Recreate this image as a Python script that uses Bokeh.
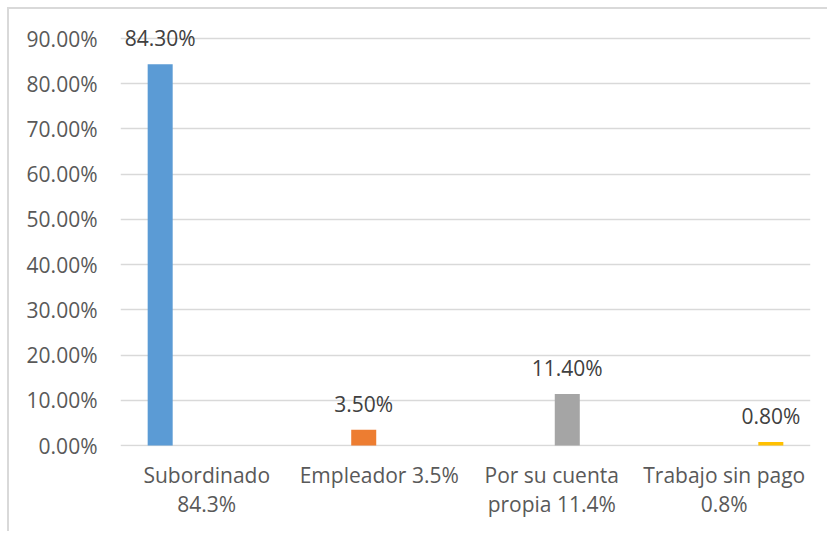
from bokeh.plotting import figure
from bokeh.models import ColumnDataSource, Range1d, FixedTicker, NumeralTickFormatter, LabelSet, LinearAxis
from bokeh.core.properties import value
from bokeh.embed import file_html
from bokeh.resources import INLINE

categories = ["Subordinado 84.3%", "Empleador 3.5%", "Por su cuenta propia 11.4%", "Trabajo sin pago 0.8%"]
label_line1 = ["Subordinado", "Empleador 3.5%", "Por su cuenta", "Trabajo sin pago"]
label_line2 = ["84.3%", " ", "propia 11.4%", "0.8%"]
values = [0.843, 0.035, 0.114, 0.008]
colors = ["#5B9BD5", "#ED7D31", "#A5A5A5", "#FFC000"]
y_ticks = [0.0, 0.1, 0.2, 0.3, 0.4, 0.5, 0.6, 0.7, 0.8, 0.9]

FONT = "Open Sans"
FS = "21px"

centers = [i + 0.5 for i in range(len(categories))]
xpos = [c + (i - 1.5) * 0.18 for i, c in enumerate(centers)]

src = ColumnDataSource(dict(x=xpos, top=values, color=colors,
                            label=["%.2f%%" % (v * 100) for v in values]))

p = figure(width=820, height=524, x_range=Range1d(0, len(categories)),
           y_range=Range1d(-0.002, 0.9398), output_backend="svg", toolbar_location=None,
           min_border_left=111, min_border_right=19, min_border_top=11, min_border_bottom=87)
p.styles = {"margin-left": "7px", "margin-top": "7px",
            "border-top": "2px solid #d9d9d9", "border-left": "2px solid #d9d9d9"}
p.outline_line_color = None
p.background_fill_color = "white"
p.border_fill_color = "white"

p.vbar(x="x", top="top", bottom=0, width=0.145, source=src, fill_color="color", line_color=None)
p.add_layout(LabelSet(x="x", y="top", text="label", source=src,
                      text_align="center", text_baseline="alphabetic", y_offset=18,
                      text_font=value(FONT), text_font_size=FS, text_color="#404040"))

p.yaxis.ticker = FixedTicker(ticks=y_ticks)
p.yaxis.formatter = NumeralTickFormatter(format="0.00%")
p.ygrid.ticker = FixedTicker(ticks=y_ticks)
p.ygrid.grid_line_color = "#d9d9d9"
p.ygrid.grid_line_width = 1.5
p.xgrid.grid_line_color = None

p.xaxis.ticker = FixedTicker(ticks=centers)
p.xaxis.major_label_overrides = {c: t for c, t in zip(centers, label_line1)}
ax2 = LinearAxis(ticker=FixedTicker(ticks=centers),
                 major_label_overrides={c: t for c, t in zip(centers, label_line2)})
p.add_layout(ax2, "below")

for ax in (p.xaxis[0], ax2, p.yaxis[0]):
    ax.axis_line_color = None
    ax.major_tick_line_color = None
    ax.minor_tick_line_color = None
    ax.major_label_text_font = FONT
    ax.major_label_text_font_size = FS
    ax.major_label_text_color = "#595959"

p.yaxis.major_label_standoff = 17
p.xaxis[0].major_label_standoff = 8
ax2.major_label_standoff = -8

open("out.html", "w").write(file_html(p, INLINE))
